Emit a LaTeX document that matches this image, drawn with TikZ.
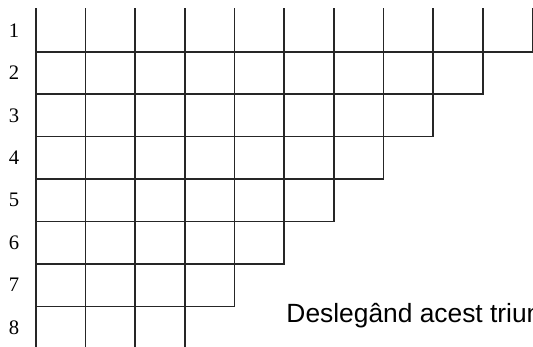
\documentclass[tikz,border=0pt]{standalone}
\usepackage{fontspec}
\newfontfamily\arialfont{Liberation Sans}
\newfontfamily\timesfont{Liberation Serif}
\tikzset{ln/.style={line width=1.3pt,black!85,line cap=rect},rn/.style={inner sep=0pt,font=\timesfont\fontsize{15.5}{18}\selectfont},note/.style={inner sep=0pt,font=\arialfont\fontsize{19.8}{22}\selectfont}}
\begin{document}
\begin{tikzpicture}[x=37.3pt,y=-31.9pt]
\useasboundingbox(-0.724,-1.216)rectangle(10.01,6.95);
\foreach\i in{0,...,10}\draw[ln](\i,-1)--(\i,{min(10-\i,6.95)});
\foreach\k in{1,...,7}\draw[ln](0,\k-1)--(11-\k,\k-1);
\foreach\k in{1,...,8}\node[rn](r\k)at(-0.443,\k-1.5){\k};
\node[note,anchor=base west](msg)at(5.04,6.37){Deslegând acest triun};
\end{tikzpicture}
\end{document}
